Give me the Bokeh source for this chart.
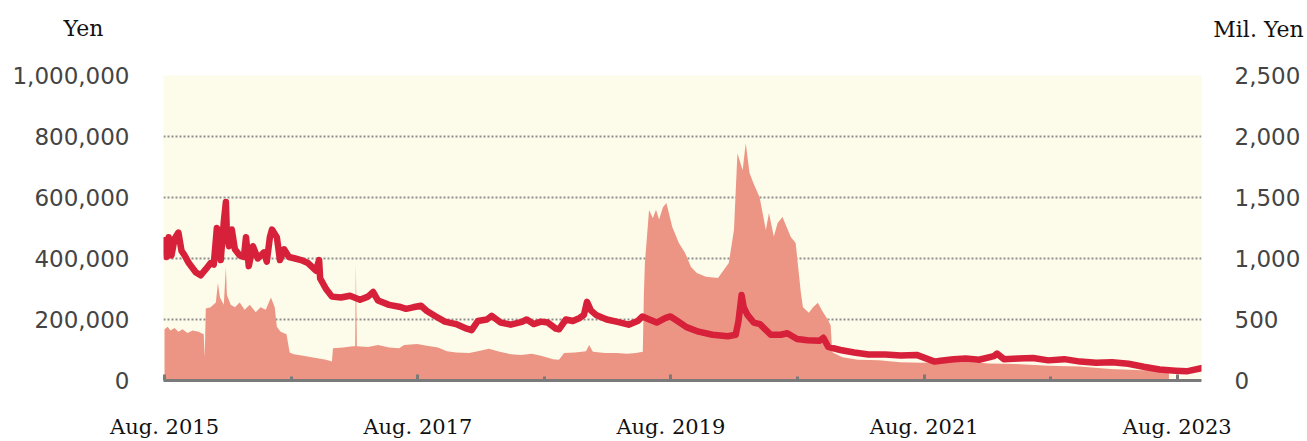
import pandas as pd
from bokeh.plotting import figure
from bokeh.models import (ColumnDataSource, Range1d, LinearAxis, FixedTicker,
                          NumeralTickFormatter, CustomJSTickFormatter, Label)
from bokeh.embed import file_html
from bokeh.resources import INLINE

# ---------------- data ----------------
price_dates = [
    "2015-08-01", "2015-08-07", "2015-08-13", "2015-08-21", "2015-08-30", "2015-09-10", "2015-09-19",
    "2015-09-28", "2015-10-10", "2015-10-30", "2015-11-13", "2015-11-28", "2015-12-12", "2015-12-21",
    "2015-12-30", "2016-01-07", "2016-01-10", "2016-01-19", "2016-01-25", "2016-01-28", "2016-02-03",
    "2016-02-11", "2016-02-20", "2016-03-05", "2016-03-17", "2016-03-23", "2016-03-31", "2016-04-12",
    "2016-04-26", "2016-05-14", "2016-05-22", "2016-05-31", "2016-06-06", "2016-06-20", "2016-06-29",
    "2016-07-11", "2016-07-25", "2016-08-12", "2016-08-29", "2016-09-18", "2016-10-11", "2016-10-20",
    "2016-10-23", "2016-11-09", "2016-11-26", "2016-12-22", "2017-01-17", "2017-02-15", "2017-03-10",
    "2017-03-25", "2017-04-08", "2017-05-10", "2017-06-08", "2017-06-28", "2017-07-18", "2017-08-10",
    "2017-08-27", "2017-09-22", "2017-10-18", "2017-11-19", "2017-12-20", "2018-01-03", "2018-01-21",
    "2018-02-16", "2018-03-02", "2018-03-28", "2018-04-26", "2018-05-28", "2018-06-11", "2018-07-01",
    "2018-07-22", "2018-08-11", "2018-09-03", "2018-09-12", "2018-10-02", "2018-10-22", "2018-11-11",
    "2018-11-23", "2018-12-02", "2018-12-13", "2018-12-28", "2019-01-28", "2019-02-28", "2019-04-01",
    "2019-04-27", "2019-05-11", "2019-05-31", "2019-06-21", "2019-07-17", "2019-07-31", "2019-08-20",
    "2019-09-15", "2019-10-20", "2019-11-29", "2020-01-12", "2020-02-04", "2020-02-12", "2020-02-21",
    "2020-02-27", "2020-03-09", "2020-03-27", "2020-04-14", "2020-05-15", "2020-06-13", "2020-07-02",
    "2020-07-30", "2020-08-29", "2020-10-02", "2020-10-14", "2020-10-28", "2020-12-02", "2021-01-11",
    "2021-02-21", "2021-04-11", "2021-05-25", "2021-07-10", "2021-08-31", "2021-09-17", "2021-10-25",
    "2021-11-29", "2022-01-06", "2022-02-18", "2022-02-27", "2022-03-19", "2022-04-29", "2022-06-11",
    "2022-07-25", "2022-09-09", "2022-10-25", "2022-12-10", "2023-01-25", "2023-03-13", "2023-04-26",
    "2023-06-11", "2023-07-27", "2023-08-28", "2023-10-09",
]
price_yen = [
    460000, 405000, 470000, 410000, 465000, 485000, 425000,
    410000, 385000, 355000, 345000, 365000, 385000, 380000,
    500000, 470000, 395000, 520000, 585000, 480000, 440000,
    495000, 430000, 410000, 405000, 470000, 375000, 440000,
    400000, 420000, 390000, 470000, 495000, 470000, 395000,
    430000, 405000, 400000, 395000, 385000, 360000, 395000,
    335000, 300000, 275000, 272000, 278000, 265000, 275000,
    290000, 262000, 248000, 242000, 235000, 240000, 245000,
    228000, 210000, 193000, 185000, 170000, 165000, 195000,
    200000, 212000, 190000, 183000, 192000, 200000, 185000,
    193000, 190000, 170000, 168000, 200000, 195000, 205000,
    215000, 258000, 230000, 215000, 200000, 192000, 183000,
    195000, 210000, 200000, 190000, 205000, 210000, 195000,
    175000, 160000, 150000, 145000, 150000, 195000, 280000,
    240000, 215000, 190000, 185000, 150000, 150000, 155000,
    136000, 132000, 130000, 140000, 110000, 100000, 92000,
    85000, 85000, 82000, 84000, 62000, 65000, 70000,
    72000, 68000, 80000, 88000, 70000, 72000, 74000,
    66000, 70000, 62000, 58000, 60000, 55000, 45000,
    36000, 32000, 30000, 40000,
]

volume_dates = [
    "2015-08-01", "2015-08-10", "2015-08-18", "2015-08-30", "2015-09-10", "2015-09-22", "2015-10-06",
    "2015-10-21", "2015-11-07", "2015-11-22", "2015-11-25", "2015-11-28", "2015-12-12", "2015-12-27",
    "2016-01-02", "2016-01-08", "2016-01-19", "2016-01-25", "2016-01-28", "2016-02-08", "2016-02-20",
    "2016-03-05", "2016-03-19", "2016-04-03", "2016-04-20", "2016-05-04", "2016-05-19", "2016-06-03",
    "2016-06-14", "2016-06-20", "2016-07-01", "2016-07-18", "2016-07-27", "2016-08-08", "2016-09-08",
    "2016-10-11", "2016-11-09", "2016-11-26", "2016-11-29", "2016-12-28", "2017-01-25", "2017-02-01",
    "2017-02-03", "2017-02-06", "2017-03-10", "2017-04-08", "2017-05-10", "2017-06-08", "2017-06-22",
    "2017-07-30", "2017-08-27", "2017-09-28", "2017-10-24", "2017-11-19", "2017-12-27", "2018-01-21",
    "2018-02-22", "2018-03-25", "2018-04-26", "2018-05-25", "2018-06-26", "2018-07-25", "2018-08-26",
    "2018-09-12", "2018-09-27", "2018-10-28", "2018-11-29", "2018-12-08", "2018-12-19", "2019-01-23",
    "2019-02-26", "2019-03-27", "2019-04-22", "2019-05-12", "2019-05-15", "2019-05-18", "2019-05-30",
    "2019-06-10", "2019-06-19", "2019-06-28", "2019-07-09", "2019-07-19", "2019-08-05", "2019-08-24",
    "2019-09-11", "2019-09-28", "2019-10-15", "2019-11-10", "2019-12-15", "2020-01-15", "2020-01-30",
    "2020-02-09", "2020-02-24", "2020-03-04", "2020-03-15", "2020-03-26", "2020-04-13", "2020-05-01",
    "2020-05-10", "2020-05-24", "2020-06-04", "2020-06-18", "2020-07-12", "2020-07-26", "2020-08-10",
    "2020-08-16", "2020-09-02", "2020-09-14", "2020-09-28", "2020-10-13", "2020-10-27", "2020-11-04",
    "2020-11-08", "2020-11-10", "2020-12-08", "2021-01-21", "2021-03-23", "2021-05-23", "2021-07-23",
    "2021-09-22", "2021-11-21", "2022-02-04", "2022-04-23", "2022-07-25", "2022-10-23", "2023-01-20",
    "2023-04-23", "2023-07-08", "2023-10-09",
]
volume_mil_yen = [
    420, 440, 410, 430, 400, 420, 390,
    410, 400, 380, 190, 590, 600, 640,
    800, 680, 620, 930, 700, 620, 600,
    640, 580, 620, 560, 600, 580, 680,
    600, 440, 400, 380, 230, 215, 200,
    185, 170, 155, 265, 270, 280, 280,
    960, 280, 275, 290, 270, 265, 290,
    300, 285, 270, 240, 230, 225, 240,
    260, 235, 215, 210, 220, 200, 175,
    170, 225, 230, 240, 290, 235, 225,
    225, 220, 225, 235, 700, 964, 1397,
    1330, 1400, 1320, 1420, 1454, 1258, 1127,
    1046, 931, 882, 850, 841, 964, 1234,
    1863, 1724, 1944, 1700, 1618, 1503, 1234,
    1372, 1180, 1290, 1340, 1176, 1127,
    719, 600, 556, 600, 637, 560, 498,
    450, 260, 230, 190, 170, 165, 150,
    145, 150, 155, 140, 135, 120, 115,
    95, 85, 90,
]

x_label_years = [2015, 2017, 2019, 2021, 2023]
x_minor_years = [2016, 2018, 2020, 2022]
left_ticks = [0, 200000, 400000, 600000, 800000, 1000000]
right_ticks = [0, 500, 1000, 1500, 2000, 2500]

# ---------------- helpers ----------------
def ms(s):
    return pd.Timestamp(s).value / 1e6

x_start = ms("2015-07-29")
x_end = ms("2023-10-10")

price_src = ColumnDataSource(dict(date=pd.to_datetime(price_dates), price=price_yen))
vol_src = ColumnDataSource(dict(date=pd.to_datetime(volume_dates), vol=volume_mil_yen))

W, H = 1307, 441
FL, FR, FT, FB = 163, 1201, 75, 381   # frame edges in page pixels
p = figure(width=W, height=H, x_axis_type="datetime", output_backend="svg",
           toolbar_location=None, title=None,
           x_range=Range1d(x_start, x_end), y_range=Range1d(0, 1000000),
           min_border_left=FL, min_border_right=W - FR, min_border_top=FT,
           min_border_bottom=H - FB)
p.background_fill_color = "#fdfbea"
p.border_fill_color = "white"
p.outline_line_color = None

p.extra_y_ranges = {"vol": Range1d(0, 2500)}

# area (right axis) then line (left axis)
p.varea(x="date", y1=0, y2="vol", source=vol_src, y_range_name="vol",
        fill_color="#ec9584", fill_alpha=1.0)
p.line(x="date", y="price", source=price_src, line_color="#d7203a", line_width=6.5,
       line_join="round", line_cap="round")

# grid
p.xgrid.visible = False
p.ygrid.grid_line_color = "#8f8f8f"
p.ygrid.grid_line_width = 2
p.ygrid.grid_line_dash = "2 2"

TICK_FONT = "23px"

# left axis
ly = p.yaxis[0]
ly.ticker = FixedTicker(ticks=left_ticks)
ly.formatter = NumeralTickFormatter(format="0,0")
ly.axis_line_color = None
ly.major_tick_line_color = None
ly.minor_tick_line_color = None
ly.major_label_text_font = "DejaVu Sans"
ly.major_label_text_font_size = TICK_FONT
ly.major_label_text_color = "#444444"
ly.major_label_standoff = 28

# right axis
ry = LinearAxis(y_range_name="vol", ticker=FixedTicker(ticks=right_ticks),
                formatter=NumeralTickFormatter(format="0,0"))
ry.axis_line_color = None
ry.major_tick_line_color = None
ry.minor_tick_line_color = None
ry.major_label_text_font = "DejaVu Sans"
ry.major_label_text_font_size = TICK_FONT
ry.major_label_text_color = "#444444"
ry.major_label_standoff = 27
p.add_layout(ry, "right")

# x axis
xa = p.xaxis[0]
xa.ticker = FixedTicker(ticks=[ms(f"{y}-08-01") for y in x_label_years],
                        minor_ticks=[ms(f"{y}-08-01") for y in x_minor_years])
xa.formatter = CustomJSTickFormatter(code="return 'Aug. ' + new Date(tick).getUTCFullYear();")
xa.axis_line_color = "#7a7a7a"
xa.axis_line_width = 3
xa.major_tick_line_color = "#7a7a7a"
xa.major_tick_line_width = 3
xa.major_tick_in = 6
xa.major_tick_out = 0
xa.minor_tick_line_color = "#7a7a7a"
xa.minor_tick_line_width = 3
xa.minor_tick_in = 4
xa.minor_tick_out = 0
xa.major_label_text_font = "DejaVu Serif"
xa.major_label_text_font_size = "21px"
xa.major_label_text_color = "#111111"
xa.major_label_standoff = 34

# unit titles in the top side panel (not clipped to the frame)
UNIT_FONT = "22px"
yen = Label(x=83 - FL, y=FT - 28, x_units="screen", y_units="screen", text="Yen",
            text_align="center", text_baseline="middle", text_font="DejaVu Serif",
            text_font_size=UNIT_FONT, text_color="#111111")
p.add_layout(yen, "above")
mil = Label(x=1258 - FL, y=FT - 28 - 26, x_units="screen", y_units="screen", text="Mil. Yen",
            text_align="center", text_baseline="middle", text_font="DejaVu Serif",
            text_font_size=UNIT_FONT, text_color="#111111")
p.add_layout(mil, "above")

open("out.html", "w").write(file_html(p, INLINE))
